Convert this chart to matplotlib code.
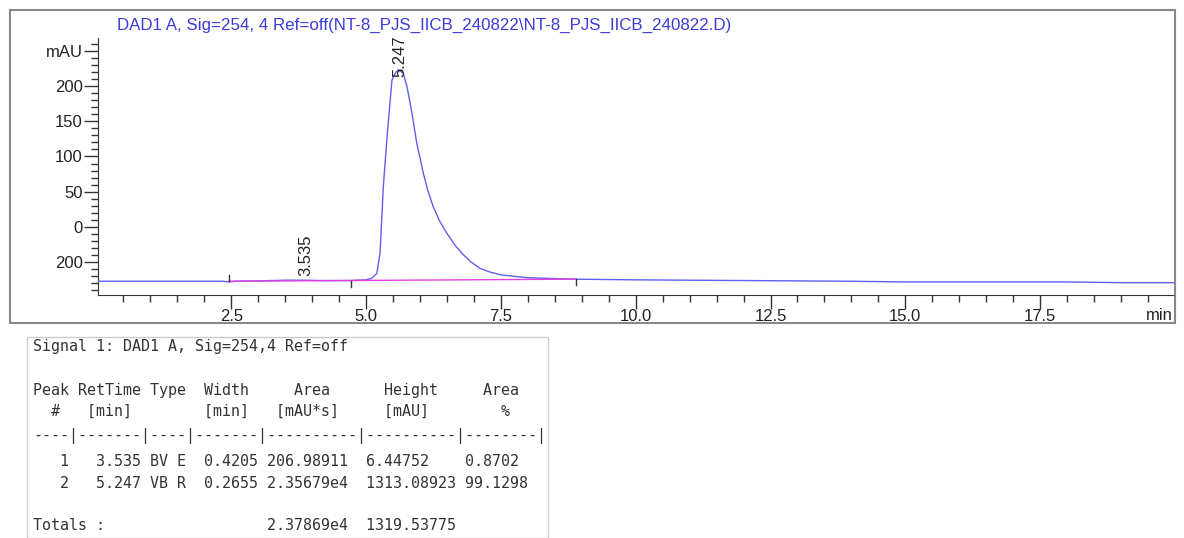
import matplotlib
matplotlib.use("Agg")
import matplotlib.pyplot as plt
from matplotlib.patches import Rectangle

# chromatogram trace (min, mAU on the drawn scale)
time_min = [0.0, 1.0, 2.0, 2.35, 2.45, 2.6, 3.0, 3.5, 3.8, 4.2, 4.7, 5.0, 5.1,
            5.2, 5.26, 5.32, 5.39, 5.48, 5.54, 5.60, 5.69, 5.76, 5.85, 5.94,
            6.06, 6.14, 6.24, 6.36, 6.50, 6.65, 6.80, 6.95, 7.12, 7.3, 7.5,
            8.0, 8.8, 10.0, 12.0, 14.0, 15.0, 17.0, 18.0, 19.0, 20.0]
signal = [-77, -77, -77, -77, -78, -77, -76.5, -75.5, -75.5, -76, -76, -75,
          -73, -66, -37, 57, 128, 208, 218, 223, 218, 199, 162, 119, 77, 53,
          30, 9, -9, -26, -39, -50, -59, -64, -68, -72, -74, -75, -76, -77,
          -78, -78, -78, -79, -79]

baseline_t = [2.45, 8.9]
baseline_y = [-77, -74]
marker_t = [2.45, 4.72, 8.9]
marker_side = [1, -1, -1]  # tick above or below the trace

peak_rt = ["3.535", "5.247"]
peak_pos = [(3.875, -69), (5.63, 212)]

ytick_vals = [-50, 0, 50, 100, 150, 200, 250]
ytick_text = ["200", "0", "50", "100", "150", "200", "mAU"]
xtick_vals = [2.5, 5.0, 7.5, 10.0, 12.5, 15.0, 17.5]

title = "DAD1 A, Sig=254, 4 Ref=off(NT-8_PJS_IICB_240822\\NT-8_PJS_IICB_240822.D)"

table_lines = [
    "Signal 1: DAD1 A, Sig=254,4 Ref=off",
    "",
    "Peak RetTime Type  Width     Area      Height     Area",
    "  #   [min]        [min]   [mAU*s]     [mAU]        %",
    "----|-------|----|-------|----------|----------|--------|",
    "   1   3.535 BV E  0.4205 206.98911  6.44752    0.8702",
    "   2   5.247 VB R  0.2655 2.35679e4  1313.08923 99.1298",
    "",
    "Totals :                  2.37869e4  1319.53775",
]
table_y = [347, 368, 390, 411, 436, 461, 484, 505, 525]

TRACE = "#5f5ff0"
BASE = "#e040e0"
TEXT = "#222222"

W, H = 1184, 538
fig = plt.figure(figsize=(W / 100, H / 100), dpi=100, facecolor="white")
plt.rcParams["font.family"] = ["Liberation Sans", "DejaVu Sans"]

# outer frame of the chart
fig.patches.append(Rectangle((10 / W, 1 - 323 / H), 1165 / W, 313 / H,
                             transform=fig.transFigure, fill=False,
                             edgecolor="#888888", linewidth=1.5))

ax = fig.add_axes([98 / W, 1 - 295 / H, (1175 - 98) / W, (295 - 38) / H])
ax.set_facecolor("none")
ax.plot(time_min, signal, color=TRACE, linewidth=1.0, zorder=3)
ax.plot(baseline_t, baseline_y, color=BASE, linewidth=1.0, zorder=4)
for t, s in zip(marker_t, marker_side):
    y0 = baseline_y[0] + (baseline_y[1] - baseline_y[0]) * (t - baseline_t[0]) / (baseline_t[1] - baseline_t[0])
    ax.plot([t, t], [y0, y0 + s * 9], color="#333333", linewidth=1.0, zorder=5)

for lab, (t, y) in zip(peak_rt, peak_pos):
    ax.text(t, y, lab, rotation=90, ha="center", va="bottom", fontsize=12,
            color=TEXT)

ax.set_xlim(0.03, 20.0)
ax.set_ylim(-96.5, 268)
for side in ["top", "right"]:
    ax.spines[side].set_visible(False)
for side in ["left", "bottom"]:
    ax.spines[side].set_color("#333333")

ax.set_yticks(ytick_vals)
ax.set_yticklabels(ytick_text)
ax.set_yticks([v for v in range(-90, 261, 10) if v % 50 != 0], minor=True)
ax.set_xticks(xtick_vals)
ax.set_xticklabels([f"{v:.1f}" for v in xtick_vals])
ax.set_xticks([i * 0.5 for i in range(1, 40) if (i * 0.5) % 2.5 != 0], minor=True)
ax.tick_params(which="major", direction="out", length=10, width=1,
               colors="#333333", labelcolor=TEXT, labelsize=12)
ax.tick_params(axis="x", which="major", pad=0)
ax.tick_params(axis="y", which="major", pad=1)
ax.tick_params(which="minor", direction="out", length=5, width=1,
               colors="#333333")
fig.text(1173 / W, 1 - 315 / H, "min", ha="right", va="center",
         fontsize=12, color=TEXT)

fig.text(117 / W, 1 - 25 / H, title, ha="left", va="center", fontsize=12.2,
         color="#3b3bd8")

# integration results table
fig.patches.append(Rectangle((27 / W, 0), (548 - 27) / W, 1 - 337 / H,
                             transform=fig.transFigure, fill=False,
                             edgecolor="#cccccc", linewidth=1.0))
for line, y in zip(table_lines, table_y):
    fig.text(33 / W, 1 - y / H, line, ha="left", va="center",
             family="DejaVu Sans Mono", fontsize=10.8, color="#333333")

fig.savefig("out.png", dpi=100, facecolor="white")
